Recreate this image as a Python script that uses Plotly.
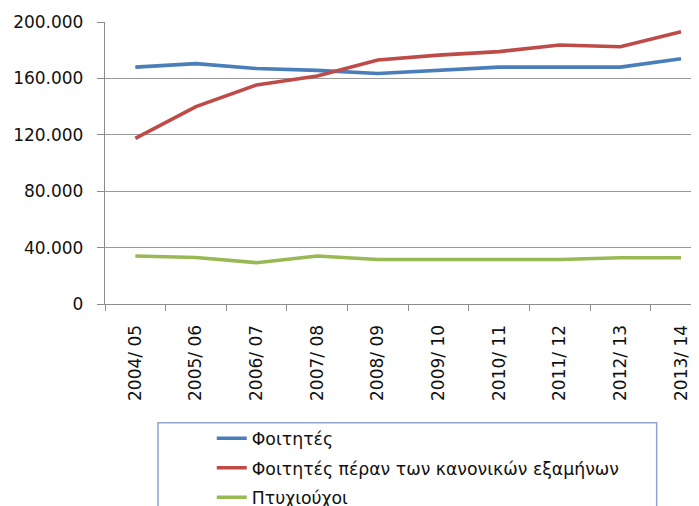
import plotly.graph_objects as go

years = ["2004/ 05", "2005/ 06", "2006/ 07", "2007/ 08", "2008/ 09",
         "2009/ 10", "2010/ 11", "2011/ 12", "2012/ 13", "2013/ 14"]
students = [168000, 170500, 167000, 165700, 163500, 165700, 168000, 168000, 168000, 174000]
students_over = [117500, 140000, 155400, 161700, 173000, 176500, 179000, 183700, 182500, 193000]
graduates = [34000, 33000, 29300, 34000, 31600, 31600, 31600, 31600, 32800, 32800]

names = ["Φοιτητές", "Φοιτητές πέραν των κανονικών εξαμήνων", "Πτυχιούχοι"]
colors = ["#4A7EBB", "#BE4B48", "#98B954"]
series = [students, students_over, graduates]

OFF = 8  # page body margin
W, H = 699 - OFF, 506 - OFF
# target pixel positions on the page
L, T, R, B = 105.3, 22.0, 699.0, 304.3

def px(X):
    return (X - L) / (R - L)

def py(Y):
    return (B - Y) / (B - T)

fig = go.Figure()
for i, (n, c, s) in enumerate(zip(names, colors, series)):
    fig.add_trace(go.Scatter(x=years, y=s, name=n, mode="lines",
                             line=dict(color=c, width=3.6),
                             legendgroup=f"g{i}"))

font = dict(family="DejaVu Sans", size=17, color="#111111")

fig.update_layout(
    width=W, height=H,
    margin=dict(l=L - OFF, r=0, t=T - OFF, b=(H + OFF) - B, pad=0, autoexpand=False),
    paper_bgcolor="white", plot_bgcolor="white",
    font=font,
    showlegend=True,
    legend=dict(x=px(212), y=py(421), xanchor="left", yanchor="top",
                xref="paper", yref="paper",
                traceorder="grouped", tracegroupgap=4,
                bgcolor="rgba(0,0,0,0)", borderwidth=0,
                font=dict(family="DejaVu Sans", size=17.3, color="#111111")),
    xaxis=dict(type="category", range=[-0.5, -0.5 + (R - L) / 60.6],
               tickson="boundaries", ticks="outside", ticklen=6,
               tickcolor="#8C8C8C", tickwidth=1.3,
               showline=True, linecolor="#8C8C8C", linewidth=1.3,
               showgrid=False, tickangle=-90, ticklabelstandoff=13,
               tickfont=font, zeroline=False),
    yaxis=dict(range=[0, 200000], tickvals=[0, 40000, 80000, 120000, 160000, 200000],
               ticktext=["0", "40.000", "80.000", "120.000", "160.000", "200.000"],
               ticks="outside", ticklen=7, tickcolor="#8C8C8C", tickwidth=1.3,
               showline=True, linecolor="#8C8C8C", linewidth=1.3,
               showgrid=True, gridcolor="#999999", gridwidth=1.3,
               ticklabelstandoff=10, tickfont=font, zeroline=False),
    shapes=[dict(type="rect", xref="paper", yref="paper",
                 x0=px(158.3), x1=px(656.7), y0=py(423.3), y1=py(530),
                 line=dict(color="#8EA6CF", width=1.5), fillcolor="rgba(0,0,0,0)",
                 layer="above")],
)

fig.write_html("out.html")
